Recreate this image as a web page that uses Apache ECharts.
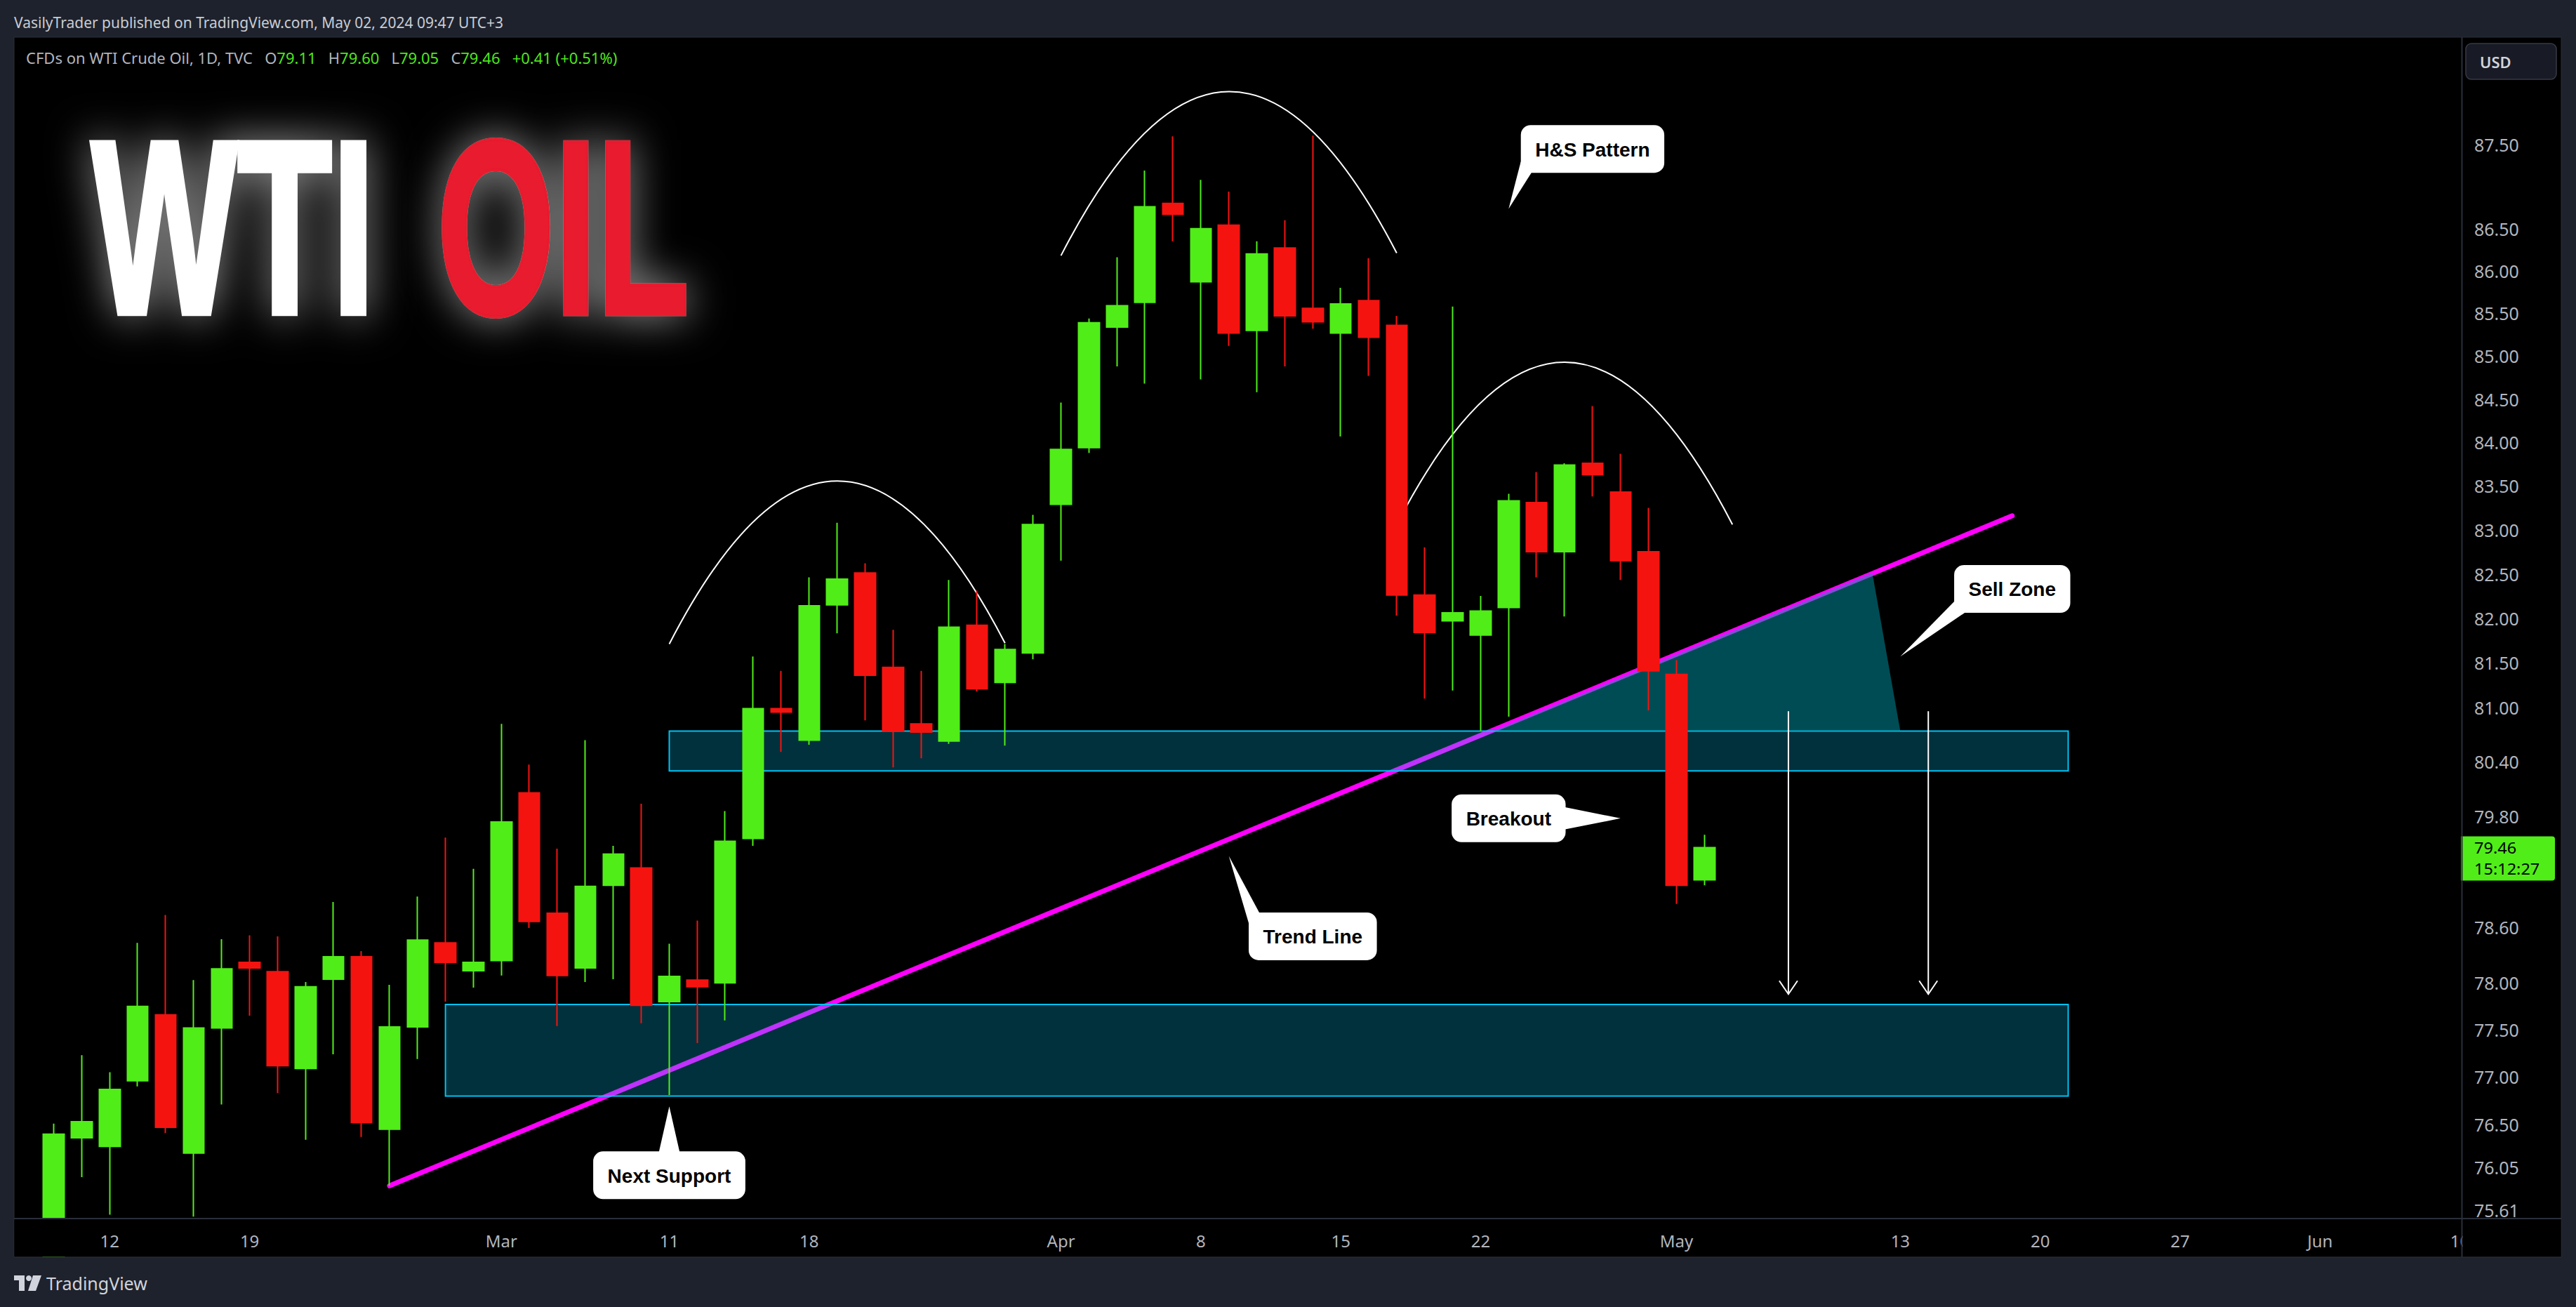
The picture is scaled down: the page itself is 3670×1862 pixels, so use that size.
<!DOCTYPE html>
<html><head><meta charset="utf-8">
<script src="https://cdn.jsdelivr.net/npm/echarts@6/dist/echarts.min.js"></script>
<style>html,body{margin:0;padding:0;background:#1e222d;}#chart{width:3670px;height:1862px;}</style>
</head><body><div id="chart"></div>
<script>
// ---------------- data ----------------
const dates = ['2024-02-07','2024-02-08','2024-02-09','2024-02-12','2024-02-13','2024-02-14','2024-02-15','2024-02-16','2024-02-19','2024-02-20','2024-02-21','2024-02-22','2024-02-23','2024-02-26','2024-02-27','2024-02-28','2024-02-29',
'2024-03-01','2024-03-04','2024-03-05','2024-03-06','2024-03-07','2024-03-08','2024-03-11','2024-03-12','2024-03-13','2024-03-14','2024-03-15','2024-03-18','2024-03-19','2024-03-20','2024-03-21','2024-03-22','2024-03-25','2024-03-26','2024-03-27','2024-03-28',
'2024-04-01','2024-04-02','2024-04-03','2024-04-04','2024-04-05','2024-04-08','2024-04-09','2024-04-10','2024-04-11','2024-04-12','2024-04-15','2024-04-16','2024-04-17','2024-04-18','2024-04-19','2024-04-22','2024-04-23','2024-04-24','2024-04-25','2024-04-26','2024-04-29','2024-04-30',
'2024-05-01','2024-05-02','2024-05-03','2024-05-06','2024-05-07','2024-05-08','2024-05-09','2024-05-10','2024-05-13','2024-05-14','2024-05-15','2024-05-16','2024-05-17','2024-05-20','2024-05-21','2024-05-22','2024-05-23','2024-05-24','2024-05-27','2024-05-28','2024-05-29','2024-05-30','2024-05-31',
'2024-06-03','2024-06-04','2024-06-05','2024-06-06','2024-06-07','2024-06-10'];

const candleStart = '2024-02-08';
const open  = [74.00,76.36,76.27,76.96,77.66,76.20,77.52,78.22,78.12,77.09,78.04,78.28,76.45,77.53,78.43,78.13,78.24,80.06,78.75,78.16,79.05,79.24,77.80,78.03,78.00,79.56,80.99,80.64,82.15,82.51,81.45,80.82,80.63,81.92,81.28,81.61,83.29,83.94,85.34,85.63,86.80,85.87,86.54,85.30,86.27,85.56,85.27,85.65,85.36,82.26,81.97,81.81,82.12,83.31,82.75,83.76,83.43,82.75,81.37,79.11];
const close = [76.40,76.53,76.87,77.75,76.47,77.52,78.15,78.16,77.12,77.96,78.28,76.52,77.53,78.46,78.22,78.22,79.74,78.66,78.08,79.04,79.39,77.76,78.07,77.96,79.53,80.99,80.95,82.14,82.44,81.36,80.74,80.73,81.90,81.21,81.65,83.06,83.92,85.39,85.59,86.76,86.67,86.50,85.27,86.20,85.47,85.40,85.61,85.22,82.26,81.84,82.06,82.08,83.33,82.75,83.74,83.63,82.65,81.41,79.05,79.46];
const low   = [73.90,75.95,75.56,76.90,76.41,75.54,76.71,77.65,76.83,76.34,77.24,76.37,75.86,77.19,77.80,77.95,78.08,78.59,77.54,78.01,78.04,77.57,76.81,77.36,77.60,79.48,80.51,80.59,81.83,80.86,80.34,80.44,80.60,81.18,80.58,81.54,82.65,83.88,84.88,84.68,86.35,84.73,85.12,84.58,84.88,85.32,84.07,84.77,82.03,81.10,81.19,80.74,80.90,82.46,82.02,83.38,82.43,80.97,78.85,79.05];
const high  = [76.51,77.23,77.05,78.43,78.73,78.03,78.47,78.51,78.50,78.01,78.87,78.34,77.98,78.93,79.57,79.23,80.82,80.37,79.45,80.64,79.48,79.94,78.42,78.67,79.86,81.57,81.41,82.46,83.08,82.62,81.87,81.41,82.43,82.31,81.71,83.17,84.46,85.44,86.16,87.19,87.60,87.08,86.94,86.35,86.60,87.61,85.80,86.15,85.47,82.80,85.58,82.25,83.41,83.66,83.76,84.42,83.87,83.25,81.53,79.60];

const xTickDates  = ['2024-02-12','2024-02-19','2024-03-01','2024-03-11','2024-03-18','2024-04-01','2024-04-08','2024-04-15','2024-04-22','2024-05-01','2024-05-13','2024-05-20','2024-05-27','2024-06-03','2024-06-10'];
const xTickLabels = ['12','19','Mar','11','18','Apr','8','15','22','May','13','20','27','Jun','10'];
const yTickValues = [87.50,86.50,86.00,85.50,85.00,84.50,84.00,83.50,83.00,82.50,82.00,81.50,81.00,80.40,79.80,78.60,78.00,77.50,77.00,76.50,76.05,75.61];
const priceMin = 75.52, priceMax = 88.80;
const lastPrice = 79.46;
const countdown = '15:12:27';

// drawings (date, price)
const trendLine = [['2024-02-26', 75.86], ['2024-05-17', 83.16]];
const zoneFrom   = ['2024-03-11', '2024-02-28'];
const zoneTo     = ['2024-05-21', '2024-05-21'];
const zoneTop    = [80.74, 77.77];
const zoneBottom = [80.30, 76.80];
const sellZone = [['2024-04-22', 80.74, 0.44], ['2024-05-10', 82.51, 0], ['2024-05-13', 80.74, 0]];
const arcStart   = [['2024-03-11', 81.71], ['2024-04-01', 86.18], ['2024-04-17', 83.06]];
const arcControl = [['2024-03-19', 85.44], ['2024-04-09', 90.13], ['2024-04-25', 86.84]];
const arcEnd     = [['2024-03-27', 81.72], ['2024-04-17', 86.21], ['2024-05-03', 83.06]];
const arrows = [['2024-05-07', 80.96, 77.88], ['2024-05-14', 80.96, 77.88]];
const calloutText = ['H&S Pattern', 'Sell Zone', 'Breakout', 'Trend Line', 'Next Support'];
const calloutBox  = [['2024-04-26', 87.45], ['2024-05-17', 82.33], ['2024-04-23', 79.78], ['2024-04-12', 78.50], ['2024-03-11', 75.97]];
const calloutTip  = [['2024-04-23', 86.735], ['2024-05-13', 81.57], ['2024-04-29', 79.78], ['2024-04-09', 79.37], ['2024-03-11', 76.69]];
const calloutTail = ['bottomLeft', 'bottomLeft', 'right', 'topLeft', 'top'];

// ---------------- styles ----------------
const UP = '#51ED19', DOWN = '#F51310';
const AXIS_TEXT = '#b2b5be';
const xi = (d, off) => dates.indexOf(d) + (off || 0);
const first = dates.indexOf(candleStart);
const candleData = dates.map((d, i) => {
  const j = i - first;
  return (j >= 0 && j < open.length) ? [open[j], close[j], low[j], high[j]] : '-';
});

const mctx = document.createElement('canvas').getContext('2d');
const CALLOUT_FONT = 'bold 28px "Liberation Sans"';
function textW(t) { mctx.font = CALLOUT_FONT; return mctx.measureText(t).width; }
function tailBase(kind, L, T, w, h) {
  const R = L + w, B = T + h, cx = L + w / 2;
  if (kind === 'bottomLeft') return [[L, B - 16], [L + 15, B]];
  if (kind === 'topLeft') return [[L, T + 15], [L + 15, T]];
  if (kind === 'top') return [[cx - 15, T + 2], [cx + 15, T + 2]];
  return [[R - 2, T + 18], [R - 2, B - 18]];
}

const chart = echarts.init(document.getElementById('chart'), null, {renderer: 'svg', width: 3670, height: 1862});

const titleStyle = (txt, color) => ({
  text: txt, fill: color, stroke: color, lineWidth: 8, lineJoin: 'miter',
  fontSize: 353, fontWeight: 'bold', fontFamily: 'Liberation Sans', verticalAlign: 'middle',
  textShadowBlur: 60, textShadowColor: 'rgba(255,255,255,0.6)'
});

const option = {
  backgroundColor: '#1e222d',
  animation: false,
  grid: {left: 16.8, top: 53, width: 3507.7, height: 1683, outerBoundsMode: 'none', containLabel: false},
  xAxis: [
    {type: 'category', data: dates, boundaryGap: true, z: 10,
     axisLine: {show: false}, axisTick: {show: false}, splitLine: {show: false},
     axisLabel: {
       interval: (idx, val) => xTickDates.indexOf(val) >= 0,
       formatter: (val) => { const k = xTickDates.indexOf(val); return k >= 0 ? xTickLabels[k] : ''; },
       color: AXIS_TEXT, fontSize: 24, fontFamily: 'Noto Sans', margin: 19
     }},
    {type: 'value', min: -0.5, max: dates.length - 0.5, show: false}
  ],
  yAxis: {type: 'log', min: priceMin, max: priceMax, position: 'right', show: false,
          axisLabel: {show: false}, splitLine: {show: false}},
  graphic: [
    {type: 'rect', z: -10, silent: true, shape: {x: 20, y: 53, width: 3629, height: 1738}, style: {fill: '#000', stroke: '#2a2e39', lineWidth: 1}},
    // covers that clip marks below the plot and at the price column
    {type: 'rect', z: 6, silent: true, shape: {x: 20.5, y: 1737, width: 3487, height: 53.5}, style: {fill: '#000'}},
    {type: 'rect', z: 6, silent: true, shape: {x: 0, y: 1791, width: 3670, height: 71}, style: {fill: '#1e222d'}},
    {type: 'rect', z: 11, silent: true, shape: {x: 3508.5, y: 1737, width: 140, height: 53.5}, style: {fill: '#000'}},
    {type: 'line', z: 20, silent: true, shape: {x1: 3507.5, y1: 53, x2: 3507.5, y2: 1791}, style: {stroke: '#2a2e39', lineWidth: 2}},
    {type: 'line', z: 20, silent: true, shape: {x1: 20, y1: 1736, x2: 3649, y2: 1736}, style: {stroke: '#2a2e39', lineWidth: 2}},
    {type: 'line', z: 20, silent: true, shape: {x1: 20, y1: 1791, x2: 3649, y2: 1791}, style: {stroke: '#2a2e39', lineWidth: 1}},
    {type: 'text', z: 20, x: 20, y: 32, style: {text: 'VasilyTrader published on TradingView.com, May 02, 2024 09:47 UTC+3', fill: '#c9ccd3', fontSize: 21, fontFamily: 'Noto Sans', verticalAlign: 'middle'}},
    {type: 'text', z: 20, x: 37, y: 82, style: {
      text: '{g|CFDs on WTI Crude Oil, 1D, TVC}   {g|O}{v|79.11}   {g|H}{v|79.60}   {g|L}{v|79.05}   {g|C}{v|79.46}   {v|+0.41 (+0.51%)}',
      verticalAlign: 'middle', fontSize: 22, fontFamily: 'Noto Sans',
      rich: {g: {fill: '#b2b5be', fontSize: 22, fontFamily: 'Noto Sans'}, v: {fill: '#4ee61c', fontSize: 22, fontFamily: 'Noto Sans'}}}},
    {type: 'rect', z: 20, shape: {x: 3513, y: 62, width: 129, height: 51, r: 8}, style: {fill: '#181b25', stroke: '#363a45', lineWidth: 1.5}},
    {type: 'text', z: 21, x: 3533, y: 88, style: {text: 'USD', fill: '#d1d4dc', fontSize: 22, fontWeight: 600, fontFamily: 'Noto Sans', verticalAlign: 'middle'}},
    // big title
    {type: 'text', z: 30, x: 130, y: 324, scaleX: 0.625, style: titleStyle('WTI', '#ffffff')},
    {type: 'text', z: 30, x: 623, y: 324, scaleX: 0.61, style: titleStyle('OIL', '#e81a2e')},
    // footer logo
    {type: 'rect', z: 20, shape: {x: 20, y: 1817, width: 15, height: 7}, style: {fill: '#d1d4dc'}},
    {type: 'rect', z: 20, shape: {x: 27, y: 1817, width: 8, height: 22}, style: {fill: '#d1d4dc'}},
    {type: 'circle', z: 20, shape: {cx: 41, cy: 1821, r: 4}, style: {fill: '#d1d4dc'}},
    {type: 'polygon', z: 20, shape: {points: [[47, 1817], [59, 1817], [51, 1839], [40, 1839]]}, style: {fill: '#d1d4dc'}},
    {type: 'text', z: 20, x: 66, y: 1828, style: {text: 'TradingView', fill: '#d1d4dc', fontSize: 25, fontFamily: 'Noto Sans', verticalAlign: 'middle'}}
  ],
  series: [
    {type: 'line', name: 'trend', xAxisIndex: 1, z: 2, silent: true, symbol: 'none',
     data: trendLine.map(p => [xi(p[0]), p[1]]),
     lineStyle: {color: '#ff00ff', width: 7, cap: 'round'}},
    {type: 'custom', name: 'zones', xAxisIndex: 1, z: 3, silent: true,
     data: zoneFrom.map((d, i) => [xi(d), zoneTop[i]]),
     renderItem: (params, api) => {
       const i = params.dataIndex;
       const p1 = api.coord([xi(zoneFrom[i]), zoneTop[i]]);
       const p2 = api.coord([xi(zoneTo[i]), zoneBottom[i]]);
       return {type: 'rect', shape: {x: p1[0], y: p1[1], width: p2[0] - p1[0], height: p2[1] - p1[1]},
               style: {fill: 'rgba(0,194,242,0.25)', stroke: '#00c2f2', lineWidth: 2}};
     }},
    {type: 'custom', name: 'sellzone', xAxisIndex: 1, z: 3, silent: true,
     data: [[xi(sellZone[1][0]), sellZone[1][1]]],
     renderItem: (params, api) => ({type: 'polygon',
       shape: {points: sellZone.map(p => api.coord([xi(p[0], p[2]), p[1]]))},
       style: {fill: 'rgba(0,151,167,0.5)'}})},
    {type: 'custom', name: 'arcs', xAxisIndex: 1, z: 4, silent: true,
     data: arcStart.map(p => [xi(p[0]), p[1]]),
     renderItem: (params, api) => {
       const i = params.dataIndex;
       const s = api.coord([xi(arcStart[i][0]), arcStart[i][1]]);
       const c = api.coord([xi(arcControl[i][0]), arcControl[i][1]]);
       const e = api.coord([xi(arcEnd[i][0]), arcEnd[i][1]]);
       return {type: 'bezierCurve', shape: {x1: s[0], y1: s[1], x2: e[0], y2: e[1], cpx1: c[0], cpy1: c[1]},
               style: {stroke: '#ffffff', lineWidth: 2, fill: 'none'}};
     }},
    {type: 'candlestick', name: 'USOIL', xAxisIndex: 0, z: 5, silent: true, clip: true,
     data: candleData, barWidth: 30,
     itemStyle: {color: UP, color0: DOWN, borderColor: UP, borderColor0: DOWN, borderWidth: 2}},
    {type: 'custom', name: 'arrows', xAxisIndex: 1, z: 7, silent: true,
     data: arrows.map(a => [xi(a[0]), a[1]]),
     renderItem: (params, api) => {
       const a = arrows[params.dataIndex];
       const t = api.coord([xi(a[0]), a[1]]);
       const b = api.coord([xi(a[0]), a[2]]);
       return {type: 'group', children: [
         {type: 'polyline', shape: {points: [t, b]}, style: {stroke: '#fff', lineWidth: 2, fill: 'none'}},
         {type: 'polyline', shape: {points: [[b[0] - 13, b[1] - 19], b, [b[0] + 13, b[1] - 19]]}, style: {stroke: '#fff', lineWidth: 2, fill: 'none'}}
       ]};
     }},
    {type: 'custom', name: 'callouts', xAxisIndex: 1, z: 8, silent: true,
     data: calloutBox.map(p => [xi(p[0]), p[1]]),
     renderItem: (params, api) => {
       const i = params.dataIndex;
       const ctr = api.coord([xi(calloutBox[i][0]), calloutBox[i][1]]);
       const tip = api.coord([xi(calloutTip[i][0]), calloutTip[i][1]]);
       const w = textW(calloutText[i]) + 41, h = 68;
       const L = ctr[0] - w / 2, T = ctr[1] - h / 2;
       const base = tailBase(calloutTail[i], L, T, w, h);
       return {type: 'group', children: [
         {type: 'polygon', shape: {points: [tip, base[0], base[1]]}, style: {fill: '#ffffff'}},
         {type: 'rect', shape: {x: L, y: T, width: w, height: h, r: 14}, style: {fill: '#ffffff'}},
         {type: 'text', style: {text: calloutText[i], x: ctr[0], y: ctr[1] + 1, align: 'center', verticalAlign: 'middle',
            fill: '#000000', fontSize: 28, fontWeight: 'bold', fontFamily: 'Liberation Sans'}}
       ]};
     }},
    {type: 'custom', name: 'priceLabels', xAxisIndex: 1, z: 12, silent: true, clip: false,
     data: yTickValues.map(v => [0, v]),
     renderItem: (params, api) => {
       const v = yTickValues[params.dataIndex];
       const y = api.coord([0, v])[1];
       return {type: 'text', style: {text: v.toFixed(2), x: 3525, y: y, align: 'left', verticalAlign: 'middle',
               fill: AXIS_TEXT, fontSize: 25, fontFamily: 'Noto Sans'}};
     }},
    {type: 'custom', name: 'lastPrice', xAxisIndex: 1, z: 13, silent: true, clip: false,
     data: [[0, lastPrice]],
     renderItem: (params, api) => {
       const y = api.coord([0, lastPrice])[1];
       return {type: 'group', children: [
         {type: 'rect', shape: {x: 3506, y: y - 16, width: 134, height: 63, r: [0, 4, 4, 0]}, style: {fill: UP}},
         {type: 'text', x: 3525, y: y, scaleX: 1.12, style: {text: lastPrice.toFixed(2), x: 0, y: 0, verticalAlign: 'middle',
            fill: '#000', fontSize: 21, fontFamily: 'Noto Sans'}},
         {type: 'text', x: 3525, y: y + 30, scaleX: 1.12, style: {text: countdown, x: 0, y: 0, verticalAlign: 'middle',
            fill: '#000', fontSize: 21, fontFamily: 'Noto Sans'}}
       ]};
     }}
  ]
};
chart.setOption(option);
</script>
</body></html>
